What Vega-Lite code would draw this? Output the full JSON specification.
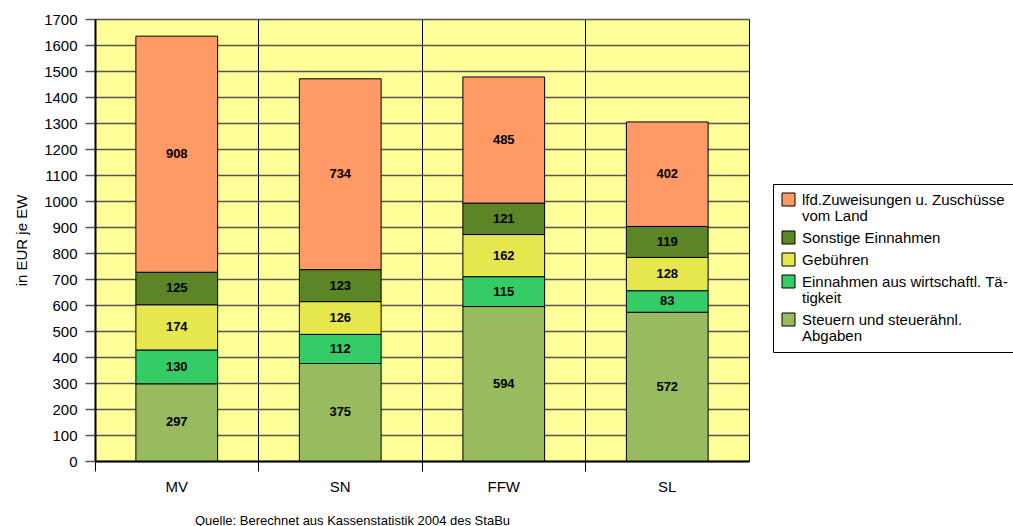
{
  "$schema": "https://vega.github.io/schema/vega-lite/v6.json",
  "width": 654,
  "height": 442,
  "autosize": {"type": "none"},
  "padding": {"left": 95, "top": 19, "right": 264, "bottom": 65},
  "background": "white",
  "config": {
    "font": "Liberation Sans",
    "view": {"fill": "#FFFF99", "stroke": "black", "strokeWidth": 1}
  },
  "data": {
    "values": [
      {"land": "MV", "kategorie": "Steuern und steuerähnl. Abgaben", "stufe": 1, "wert": 297},
      {"land": "MV", "kategorie": "Einnahmen aus wirtschaftl. Tätigkeit", "stufe": 2, "wert": 130},
      {"land": "MV", "kategorie": "Gebühren", "stufe": 3, "wert": 174},
      {"land": "MV", "kategorie": "Sonstige Einnahmen", "stufe": 4, "wert": 125},
      {"land": "MV", "kategorie": "lfd.Zuweisungen u. Zuschüsse vom Land", "stufe": 5, "wert": 908},
      {"land": "SN", "kategorie": "Steuern und steuerähnl. Abgaben", "stufe": 1, "wert": 375},
      {"land": "SN", "kategorie": "Einnahmen aus wirtschaftl. Tätigkeit", "stufe": 2, "wert": 112},
      {"land": "SN", "kategorie": "Gebühren", "stufe": 3, "wert": 126},
      {"land": "SN", "kategorie": "Sonstige Einnahmen", "stufe": 4, "wert": 123},
      {"land": "SN", "kategorie": "lfd.Zuweisungen u. Zuschüsse vom Land", "stufe": 5, "wert": 734},
      {"land": "FFW", "kategorie": "Steuern und steuerähnl. Abgaben", "stufe": 1, "wert": 594},
      {"land": "FFW", "kategorie": "Einnahmen aus wirtschaftl. Tätigkeit", "stufe": 2, "wert": 115},
      {"land": "FFW", "kategorie": "Gebühren", "stufe": 3, "wert": 162},
      {"land": "FFW", "kategorie": "Sonstige Einnahmen", "stufe": 4, "wert": 121},
      {"land": "FFW", "kategorie": "lfd.Zuweisungen u. Zuschüsse vom Land", "stufe": 5, "wert": 485},
      {"land": "SL", "kategorie": "Steuern und steuerähnl. Abgaben", "stufe": 1, "wert": 572},
      {"land": "SL", "kategorie": "Einnahmen aus wirtschaftl. Tätigkeit", "stufe": 2, "wert": 83},
      {"land": "SL", "kategorie": "Gebühren", "stufe": 3, "wert": 128},
      {"land": "SL", "kategorie": "Sonstige Einnahmen", "stufe": 4, "wert": 119},
      {"land": "SL", "kategorie": "lfd.Zuweisungen u. Zuschüsse vom Land", "stufe": 5, "wert": 402}
    ]
  },
  "transform": [
    {"stack": "wert", "groupby": ["land"], "sort": [{"field": "stufe", "order": "ascending"}], "as": ["y0", "y1"]},
    {"calculate": "(datum.y0 + datum.y1) / 2", "as": "ymitte"}
  ],
  "encoding": {
    "x": {
      "field": "land",
      "type": "nominal",
      "sort": ["MV", "SN", "FFW", "SL"],
      "scale": {"paddingInner": 0, "paddingOuter": 0},
      "axis": {
        "title": "Quelle: Berechnet aus Kassenstatistik 2004 des StaBu",
        "titleFontSize": 13,
        "titleFontWeight": "normal",
        "titleColor": "black",
        "titleX": 257,
        "titleY": 63,
        "titleAlign": "center",
        "titleBaseline": "alphabetic",
        "labelAngle": 0,
        "labelFontSize": 15,
        "labelColor": "black",
        "labelPadding": 8,
        "bandPosition": 0,
        "tickSize": 10,
        "tickColor": "black",
        "tickWidth": 1,
        "domainColor": "black",
        "domainWidth": 2,
        "grid": true,
        "gridColor": "black",
        "gridWidth": 1,
        "gridOpacity": 1
      }
    }
  },
  "resolve": {"axis": {"y": "independent"}},
  "layer": [
    {
      "mark": {"type": "bar", "width": {"band": 0.5}, "stroke": "black", "strokeWidth": 1, "opacity": 1},
      "encoding": {
        "y": {
          "field": "y0",
          "type": "quantitative",
          "scale": {"domain": [0, 1700], "nice": false},
          "axis": {
            "title": "in EUR je EW",
            "values": [0, 100, 200, 300, 400, 500, 600, 700, 800, 900, 1000, 1100, 1200, 1300, 1400, 1500, 1600, 1700],
            "format": "d",
            "labelOverlap": false,
            "titleFontSize": 15,
            "titleFontWeight": "normal",
            "titleColor": "black",
            "titlePadding": 14,
            "labelFontSize": 15,
            "labelColor": "black",
            "labelPadding": 8,
            "tickSize": 10,
            "tickColor": "#555555",
            "tickWidth": 1.5,
            "domainColor": "black",
            "domainWidth": 2,
            "grid": true,
            "gridColor": "#555555",
            "gridWidth": 1.5,
            "gridOpacity": 1
          }
        },
        "y2": {"field": "y1"},
        "color": {
          "field": "kategorie",
          "type": "nominal",
          "scale": {
            "domain": [
              "lfd.Zuweisungen u. Zuschüsse vom Land",
              "Sonstige Einnahmen",
              "Gebühren",
              "Einnahmen aus wirtschaftl. Tätigkeit",
              "Steuern und steuerähnl. Abgaben"
            ],
            "range": ["#FF9966", "#5C8526", "#E6E64D", "#33CC66", "#99BB5F"]
          },
          "legend": {
            "title": null,
            "orient": "none",
            "legendX": 678,
            "legendY": 165,
            "strokeColor": "black",
            "fillColor": "white",
            "padding": 8,
            "symbolType": "square",
            "symbolSize": 169,
            "symbolStrokeColor": "black",
            "symbolStrokeWidth": 1,
            "symbolOpacity": 1,
            "labelFontSize": 15,
            "labelColor": "black",
            "labelOffset": 6,
            "labelLimit": 300,
            "labelBaseline": "alphabetic",
            "rowPadding": 5,
            "labelExpr": "datum.value == 'lfd.Zuweisungen u. Zuschüsse vom Land' ? ['lfd.Zuweisungen u. Zuschüsse', 'vom Land'] : datum.value == 'Einnahmen aus wirtschaftl. Tätigkeit' ? ['Einnahmen aus wirtschaftl. Tä-', 'tigkeit'] : datum.value == 'Steuern und steuerähnl. Abgaben' ? ['Steuern und steuerähnl.', 'Abgaben'] : datum.value",
            "encode": {
              "labels": {"update": {"dy": {"value": 5}, "lineHeight": {"value": 16}}}
            }
          }
        }
      }
    },
    {
      "mark": {"type": "text", "fontSize": 13, "fontWeight": "bold", "color": "black", "align": "center", "baseline": "middle"},
      "encoding": {
        "y": {"field": "ymitte", "type": "quantitative", "axis": null},
        "text": {"field": "wert", "type": "quantitative"}
      }
    }
  ]
}
